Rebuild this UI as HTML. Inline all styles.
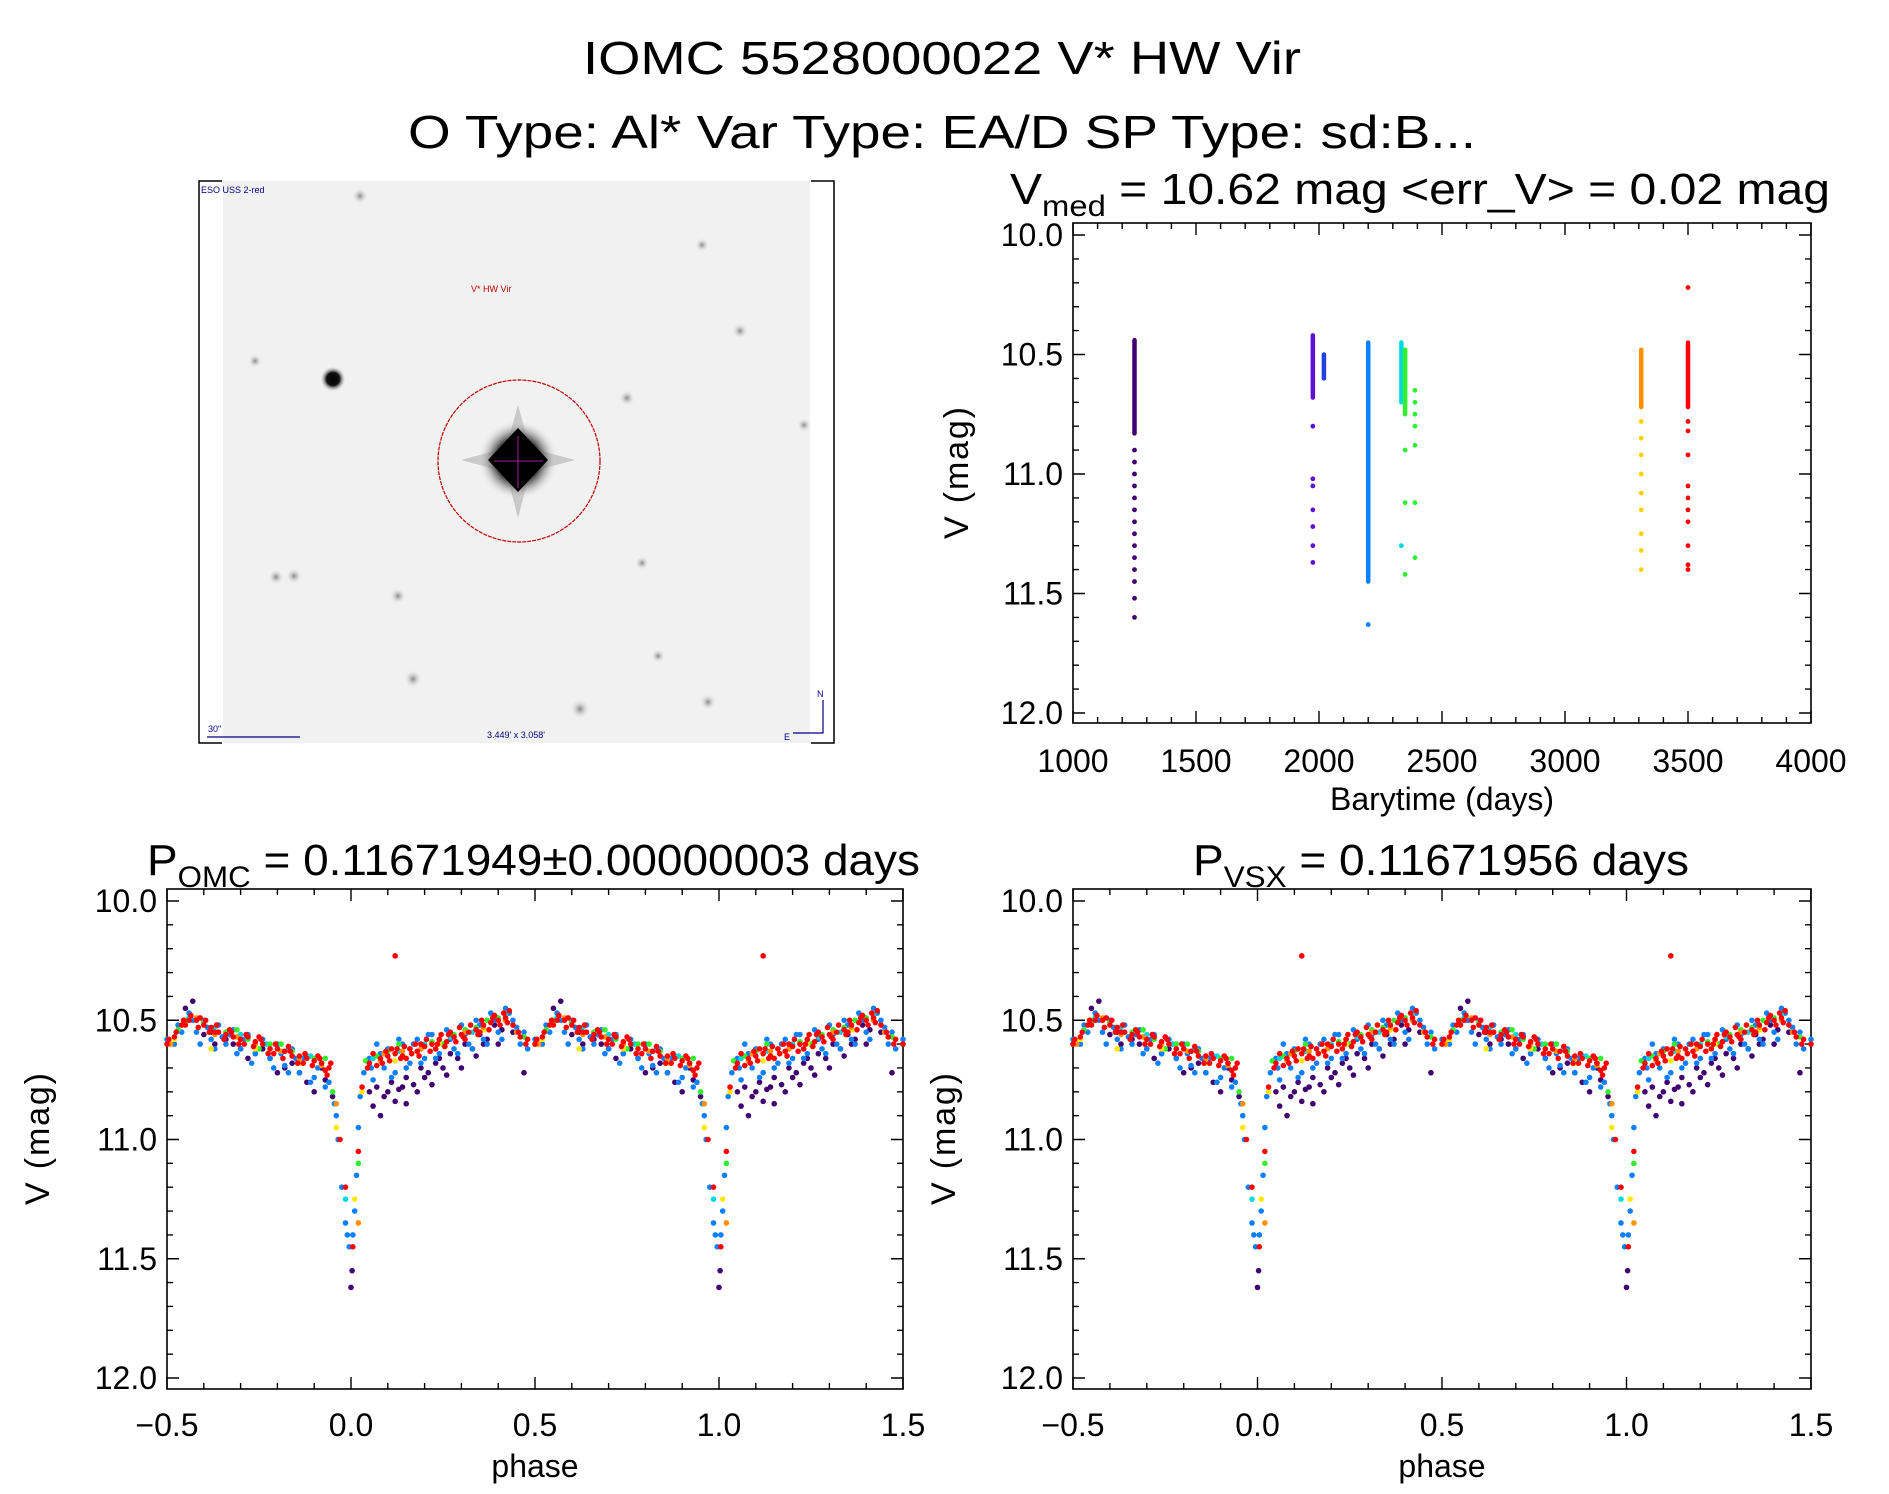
<!DOCTYPE html>
<html><head><meta charset="utf-8">
<style>
html,body{margin:0;padding:0;background:#fff;}
svg{display:block;font-family:"Liberation Sans",sans-serif;}
</style></head>
<body>
<svg id="fig" width="1889" height="1494" viewBox="0 0 1889 1494" xmlns="http://www.w3.org/2000/svg">
<defs>
<radialGradient id="starG"><stop offset="0" stop-color="#000"/><stop offset="0.5" stop-color="#111"/><stop offset="1" stop-color="#f0f0f0" stop-opacity="0"/></radialGradient>
<radialGradient id="faintG"><stop offset="0" stop-color="#888"/><stop offset="1" stop-color="#eee" stop-opacity="0"/></radialGradient>
</defs>
<text x="942" y="74" font-size="46" text-anchor="middle" textLength="718" lengthAdjust="spacingAndGlyphs">IOMC 5528000022    V* HW Vir</text>
<text x="942" y="148" font-size="46" text-anchor="middle" textLength="1068" lengthAdjust="spacingAndGlyphs">O Type: Al*  Var Type: EA/D  SP Type: sd:B...</text>

<g>
<rect x="223" y="181" width="587" height="562" fill="#f1f1f1"/>
<path d="M222,181 H199 V743 H222 M811,181 H834 V743 H811" fill="none" stroke="#000" stroke-width="1.5"/>
<g>
<circle cx="360" cy="196" r="8" fill="url(#faintG)"/>
<circle cx="702" cy="245" r="7" fill="url(#faintG)"/>
<circle cx="740" cy="331" r="8" fill="url(#faintG)"/>
<circle cx="255" cy="361" r="7" fill="url(#faintG)"/>
<circle cx="333" cy="379" r="13" fill="url(#starG)"/>
<circle cx="627" cy="398" r="8" fill="url(#faintG)"/>
<circle cx="804" cy="425" r="7" fill="url(#faintG)"/>
<circle cx="276" cy="577" r="8" fill="url(#faintG)"/>
<circle cx="294" cy="576" r="8" fill="url(#faintG)"/>
<circle cx="398" cy="596" r="8" fill="url(#faintG)"/>
<circle cx="642" cy="563" r="7" fill="url(#faintG)"/>
<circle cx="658" cy="656" r="7" fill="url(#faintG)"/>
<circle cx="413" cy="679" r="9" fill="url(#faintG)"/>
<circle cx="580" cy="709" r="10" fill="url(#faintG)"/>
<circle cx="708" cy="702" r="8" fill="url(#faintG)"/>
</g>
<g>
<path d="M518,405 L530,448 L575,460 L530,472 L518,518 L506,472 L461,460 L506,448 Z" fill="#555" opacity="0.25"/>
<circle cx="518" cy="460" r="40" fill="url(#starG)"/>
<path d="M518,428 L548,460 L518,492 L488,460 Z" fill="#000"/>
<line x1="494" y1="461" x2="543" y2="461" stroke="#a020a0" stroke-width="1"/>
<line x1="518" y1="436" x2="518" y2="488" stroke="#a020a0" stroke-width="1"/>
</g>
<ellipse cx="519" cy="461" rx="81" ry="81" fill="none" stroke="#c00000" stroke-width="1.2" stroke-dasharray="4 1"/>
<text x="471" y="292" font-size="9" fill="#c00000">V* HW Vir</text>
<text x="201" y="193" font-size="9" fill="#000080">ESO USS 2-red</text>
<text x="208" y="732" font-size="9" fill="#000080">30"</text>
<line x1="207" y1="737" x2="300" y2="737" stroke="#000080" stroke-width="1.2"/>
<text x="487" y="738" font-size="9" fill="#000080">3.449' x 3.058'</text>
<path d="M823,700 V733 H793" fill="none" stroke="#000080" stroke-width="1.2"/>
<text x="817" y="697" font-size="9" fill="#000080">N</text>
<text x="784" y="740" font-size="9" fill="#000080">E</text>
</g>
<g id="plots"></g>
</svg>
<script>
// ---- time series data (top-right) ----
var seasonTimes  = [1250, 1975, 2020, 2200, 2335, 2350, 3310, 3500];
var seasonDenseTop = [10.44, 10.42, 10.50, 10.45, 10.45, 10.48, 10.48, 10.45];
var seasonDenseBot = [10.83, 10.68, 10.60, 11.45, 10.70, 10.75, 10.72, 10.72];
var seasonColors = ["#400070", "#6010d0", "#2040e0", "#0a80ff", "#00d8e0", "#30f030", "#ff9000", "#ff0000"];
var outlierTimes = [1250,1250,1250,1250,1250,1250,1250,1250,1250,1250,1250,1250,1250,1250,
  1975,1975,1975,1975,1975,1975,1975, 2200,
  2350,2350,2350,2335, 2390,2390,2390,2390,2390,2390,2390,
  3310,3310,3310,3310,3310,3310,3310,3310,3310,
  3500,3500,3500,3500,3500,3500,3500,3500,3500,3500,3500];
var outlierMags = [10.9,10.95,11.0,11.05,11.1,11.15,11.2,11.25,11.3,11.35,11.4,11.45,11.52,11.6,
  10.8,11.02,11.05,11.15,11.22,11.3,11.37, 11.63,
  10.9,11.12,11.42,11.3, 10.65,10.7,10.75,10.8,10.88,11.12,11.35,
  10.78,10.85,10.92,11.0,11.08,11.15,11.25,11.32,11.4,
  10.22,10.78,10.82,10.92,11.05,11.1,11.15,11.2,11.3,11.38,11.4];
var outlierColors = ["#400070","#400070","#400070","#400070","#400070","#400070","#400070","#400070","#400070","#400070","#400070","#400070","#400070","#400070",
  "#6010d0","#6010d0","#6010d0","#6010d0","#6010d0","#6010d0","#6010d0","#0a80ff",
  "#30f030","#30f030","#30f030","#00d8e0","#30f030","#30f030","#30f030","#30f030","#30f030","#30f030","#30f030",
  "#ffd000","#ffd000","#ffd000","#ffd000","#ffd000","#ffd000","#ffd000","#ffd000","#ffd000",
  "#ff0000","#ff0000","#ff0000","#ff0000","#ff0000","#ff0000","#ff0000","#ff0000","#ff0000","#ff0000","#ff0000"];
var timeTicks = [1000, 1500, 2000, 2500, 3000, 3500, 4000];
var magTicks = [10.0, 10.5, 11.0, 11.5, 12.0];
var phaseTicks = [-0.5, 0.0, 0.5, 1.0, 1.5];
// ---- phased data (phase in [0,1)) ----
var purplePhase = [0.0,0.003,0.05,0.07,0.09,0.11,0.13,0.15,0.17,0.19,0.21,0.23,0.25,0.27,0.29,0.31,0.33,0.35,0.37,0.39,0.41,0.47,0.55,0.57,0.6,0.63,0.66,0.7,0.74,0.78,0.82,0.86,0.9,0.93,0.08,0.15,
  0.06,0.1,0.12,0.14,0.18,0.2,0.22,0.24,0.26,0.3,0.34,0.36,0.4,0.44,0.62,0.68,0.72,0.76,0.8,0.84,0.88,0.92,0.95];
var purpleMag   = [11.62,11.55,10.8,10.78,10.82,10.76,10.79,10.74,10.77,10.7,10.72,10.68,10.7,10.64,10.66,10.6,10.62,10.56,10.58,10.52,10.54,10.72,10.45,10.42,10.56,10.6,10.58,10.62,10.64,10.66,10.7,10.72,10.8,10.75,10.9,10.85,
  10.86,10.8,10.84,10.78,10.8,10.74,10.77,10.66,10.73,10.7,10.65,10.6,10.6,10.55,10.55,10.6,10.66,10.62,10.72,10.68,10.76,10.7,10.82];
var bluePhase = [0.005,0.01,0.015,0.02,0.025,0.035,0.045,0.06,0.07,0.09,0.1,0.12,0.14,0.16,0.18,0.2,0.22,0.24,0.26,0.28,0.3,0.32,0.34,0.36,0.38,0.4,0.42,0.44,0.46,0.48,0.52,0.54,0.56,0.58,0.6,0.62,0.64,0.66,0.68,0.7,0.72,0.74,0.76,0.78,0.8,0.82,0.84,0.86,0.88,0.9,0.92,0.94,0.955,0.965,0.975,0.985,0.995,0.05,0.25,0.45,0.65,0.85,
  0.055,0.08,0.11,0.13,0.15,0.17,0.19,0.21,0.23,0.27,0.29,0.31,0.33,0.35,0.37,0.39,0.41,0.43,0.47,0.5,0.53,0.57,0.59,0.61,0.63,0.67,0.69,0.71,0.73,0.77,0.79,0.81,0.83,0.87,0.89,0.91,0.93,0.96,0.99];
var blueMag   = [11.4,11.3,11.15,10.95,10.82,10.72,10.7,10.75,10.6,10.7,10.62,10.72,10.6,10.68,10.58,10.66,10.56,10.64,10.54,10.62,10.52,10.6,10.5,10.58,10.47,10.55,10.45,10.5,10.6,10.62,10.6,10.55,10.47,10.55,10.5,10.58,10.52,10.6,10.54,10.62,10.56,10.64,10.58,10.66,10.6,10.69,10.62,10.72,10.65,10.74,10.68,10.76,10.85,11.0,11.2,11.35,11.45,10.66,10.6,10.53,10.57,10.66,
  10.7,10.64,10.74,10.58,10.7,10.6,10.68,10.56,10.66,10.58,10.64,10.56,10.62,10.52,10.6,10.5,10.58,10.47,10.55,10.58,10.52,10.5,10.6,10.53,10.62,10.56,10.64,10.58,10.68,10.6,10.7,10.64,10.72,10.66,10.76,10.7,10.78,10.9,11.4];
var cyanPhase = [0.06,0.13,0.2,0.27,0.33,0.42,0.56,0.63,0.7,0.77,0.83,0.89,0.985];
var cyanMag   = [10.66,10.63,10.6,10.57,10.55,10.47,10.49,10.53,10.56,10.6,10.62,10.65,11.25];
var greenPhase = [0.04,0.1,0.16,0.22,0.28,0.34,0.4,0.47,0.53,0.6,0.66,0.72,0.78,0.84,0.9,0.95,0.02,
  0.07,0.13,0.25,0.31,0.37,0.55,0.69,0.75,0.81,0.87,0.93];
var greenMag   = [10.67,10.63,10.62,10.59,10.56,10.53,10.49,10.57,10.54,10.51,10.55,10.58,10.6,10.63,10.66,10.8,11.1,
  10.65,10.6,10.6,10.54,10.5,10.5,10.54,10.62,10.6,10.68,10.66];
var yellowPhase = [0.03,0.12,0.24,0.36,0.52,0.62,0.74,0.86,0.96,0.01];
var yellowMag   = [10.8,10.67,10.6,10.54,10.58,10.62,10.62,10.68,10.95,11.25];
var orangePhase = [0.02,0.09,0.19,0.31,0.45,0.58,0.69,0.81,0.92,0.14,0.24,0.36,0.51,0.63,0.74,0.86,0.08,0.42,0.96];
var orangeMag   = [11.35,10.64,10.62,10.55,10.55,10.49,10.57,10.63,10.69,10.63,10.58,10.53,10.6,10.56,10.6,10.66,10.67,10.5,10.85];
var redPhase = [0.005,0.02,0.03,0.05,0.08,0.1,0.12,0.14,0.16,0.18,0.2,0.22,0.24,0.26,0.28,0.3,0.32,0.34,0.36,0.38,0.4,0.42,0.44,0.46,0.48,0.5,0.52,0.54,0.56,0.58,0.6,0.62,0.64,0.66,0.68,0.7,0.72,0.74,0.76,0.78,0.8,0.82,0.84,0.86,0.88,0.9,0.92,0.94,0.97,0.985,0.12,
  0.07,0.11,0.15,0.19,0.23,0.27,0.31,0.35,0.39,0.43,0.55,0.59,0.63,0.67,0.71,0.75,0.79,0.83,0.87,0.91,0.93,
  0.045,0.06,0.085,0.095,0.105,0.125,0.135,0.145,0.165,0.175,0.185,0.205,0.215,0.235,0.245,0.255,0.265,0.285,0.295,0.305,0.325,0.345,0.355,0.375,0.385,0.405,0.415,0.425,0.455,0.475,0.505,0.525,0.545,0.565,0.585,0.605,0.615,0.635,0.655,0.675,0.695,0.715,0.735,0.755,0.775,0.795,0.815,0.835,0.855,0.875,0.895,0.915,0.935,0.945];
var redMag = [11.45,11.05,10.78,10.68,10.66,10.65,10.64,10.65,10.62,10.63,10.61,10.6,10.58,10.59,10.57,10.56,10.55,10.54,10.52,10.51,10.5,10.49,10.52,10.57,10.58,10.6,10.57,10.52,10.5,10.5,10.52,10.53,10.55,10.56,10.57,10.58,10.57,10.59,10.6,10.62,10.62,10.63,10.65,10.65,10.66,10.67,10.68,10.7,11.0,11.2,10.23,
  10.69,10.62,10.66,10.6,10.62,10.55,10.58,10.55,10.48,10.46,10.52,10.49,10.55,10.54,10.6,10.57,10.64,10.61,10.68,10.65,10.71,
  10.7,10.64,10.68,10.63,10.67,10.62,10.66,10.61,10.64,10.6,10.65,10.58,10.63,10.6,10.56,10.61,10.56,10.59,10.53,10.57,10.52,10.56,10.5,10.54,10.49,10.52,10.47,10.51,10.55,10.6,10.58,10.55,10.5,10.48,10.53,10.5,10.55,10.52,10.58,10.55,10.6,10.56,10.61,10.58,10.64,10.6,10.66,10.63,10.68,10.64,10.69,10.66,10.73,10.68];
var phaseSeries = [
  {name:"purple", color:"#400070", p:purplePhase, m:purpleMag},
  {name:"blue", color:"#0a80ff", p:bluePhase, m:blueMag},
  {name:"cyan", color:"#00d8e0", p:cyanPhase, m:cyanMag},
  {name:"green", color:"#30f030", p:greenPhase, m:greenMag},
  {name:"yellow", color:"#ffe800", p:yellowPhase, m:yellowMag},
  {name:"orange", color:"#ff9000", p:orangePhase, m:orangeMag},
  {name:"red", color:"#ff0000", p:redPhase, m:redMag}
];

var NS = "http://www.w3.org/2000/svg";
var root = document.getElementById("plots");
function mk(tag, attrs, parent) {
  var e = document.createElementNS(NS, tag);
  for (var k in attrs) e.setAttribute(k, attrs[k]);
  (parent || root).appendChild(e);
  return e;
}

function makeAxes(cfg) {
  var g = mk("g", {});
  
  
  var L = cfg.left, R = cfg.right, T = cfg.top, B = cfg.bottom;
  var xs = function (v) { return cfg.x0px + (v - cfg.x0) / (cfg.x1 - cfg.x0) * (cfg.x1px - cfg.x0px); };
  var ys = function (v) { return cfg.y0px + (v - 10.0) / 2.0 * (cfg.y1px - cfg.y0px); };
  var frame = mk("rect", {x: L, y: T, width: R - L, height: B - T, fill: "none", stroke: "#000", "stroke-width": 1.6}, g);
  
  
  var d = "";
  var nMinor = Math.round((cfg.x1 - cfg.x0) / cfg.xMinor);
  for (var i = 0; i <= nMinor; i++) {
    var v = cfg.x0 + i * cfg.xMinor;
    var X = xs(v);
    if (X < L - 0.5 || X > R + 0.5) continue;
    var major = Math.abs(v / cfg.xMajor - Math.round(v / cfg.xMajor)) < 1e-6;
    var len = major ? 12 : 6;
    d += "M" + X + "," + B + "v-" + len + "M" + X + "," + T + "v" + len;
  }
  for (var j = 0; j <= 20; j++) {
    var mv = 10.0 + j * 0.1;
    var Y = ys(mv);
    var maj = j % 5 === 0;
    var ln = maj ? 12 : 6;
    d += "M" + L + "," + Y + "h" + ln + "M" + R + "," + Y + "h-" + ln;
  }
  mk("path", {d: d, stroke: "#000", "stroke-width": 1.4, fill: "none"}, g);
  cfg.xTicks.forEach(function (t) {
    var tx = mk("text", {x: xs(t), y: cfg.xLabelY, "font-size": 32, "text-anchor": "middle"}, g);
    
    
    tx.textContent = cfg.fmtX(t);
  });
  magTicks.forEach(function (t) {
    var ty = mk("text", {x: L - 10, y: ys(t) + 11, "font-size": 32, "text-anchor": "end"}, g);
    
    
    ty.textContent = t.toFixed(1);
  });
  var xt = mk("text", {x: (L + R) / 2, y: cfg.xTitleY, "font-size": 32, "text-anchor": "middle"}, g);
  
  
  xt.textContent = cfg.xTitle;
  var cy = (T + B) / 2;
  var yt = mk("text", {x: cfg.yTitleX, y: cy, "font-size": 34, "text-anchor": "middle", textLength: 132, lengthAdjust: "spacing", transform: "rotate(-90 " + cfg.yTitleX + " " + cy + ")"}, g);
  
  
  yt.textContent = "V (mag)";
  return {g: g, xs: xs, ys: ys};
}

function fmtPhase(t) { return (t < 0 ? "\u2212" : "") + Math.abs(t).toFixed(1); }

// ---- top-right time series ----
var ts = makeAxes({name: "time-series-plot", left: 1073, right: 1811, top: 223, bottom: 723,
  x0: 1000, x1: 4000, x0px: 1073, x1px: 1811, y0px: 235, y1px: 713,
  xMinor: 100, xMajor: 500, xTicks: timeTicks, fmtX: function (t) { return String(t); },
  xLabelY: 772, xTitle: "Barytime (days)", xTitleY: 810, yTitleX: 968});
var tsTitle = mk("text", {x: 1010, y: 204, "font-size": 44, textLength: 820, lengthAdjust: "spacingAndGlyphs"});


tsTitle.innerHTML = 'V<tspan font-size="30" dy="12">med</tspan><tspan dy="-12"> = 10.62 mag &lt;err_V&gt; = 0.02 mag</tspan>';
seasonTimes.forEach(function (t, i) {
  var seg = mk("line", {x1: ts.xs(t), x2: ts.xs(t), y1: ts.ys(seasonDenseTop[i]), y2: ts.ys(seasonDenseBot[i]),
    stroke: seasonColors[i], "stroke-width": 4.5, "stroke-linecap": "round"}, ts.g);
  
  
});
outlierTimes.forEach(function (t, i) {
  var c = mk("circle", {cx: ts.xs(t), cy: ts.ys(outlierMags[i]), r: 2.4, fill: outlierColors[i]}, ts.g);
  
  
});

// ---- phase plots ----
function phasePlot(name, left, right, titleHtml, titleX, titleLen) {
  var ax = makeAxes({name: name, left: left, right: right, top: 889, bottom: 1389,
    x0: -0.5, x1: 1.5, x0px: left, x1px: right, y0px: 901, y1px: 1378,
    xMinor: 0.1, xMajor: 0.5, xTicks: phaseTicks, fmtX: fmtPhase,
    xLabelY: 1436, xTitle: "phase", xTitleY: 1477, yTitleX: left - 118});
  var tt = mk("text", {x: titleX, y: 875, "font-size": 44, textLength: titleLen, lengthAdjust: "spacingAndGlyphs"});
  
  
  tt.innerHTML = titleHtml;
  phaseSeries.forEach(function (s) {
    var sg = mk("g", {fill: s.color}, ax.g);
    
    
    s.p.forEach(function (ph, k) {
      [ph - 1, ph, ph + 1].forEach(function (pp) {
        if (pp < -0.5 || pp > 1.5) return;
        var c = mk("circle", {cx: ax.xs(pp), cy: ax.ys(s.m[k]), r: 2.8}, sg);
        
        
      });
    });
  });
}
phasePlot("omc-phase-plot", 167, 903, 'P<tspan font-size="30" dy="12">OMC</tspan><tspan dy="-12"> = 0.11671949\u00b10.00000003 days</tspan>', 147, 773);
phasePlot("vsx-phase-plot", 1073, 1811, 'P<tspan font-size="30" dy="12">VSX</tspan><tspan dy="-12"> = 0.11671956 days</tspan>', 1193, 496);
</script>
</body></html>
